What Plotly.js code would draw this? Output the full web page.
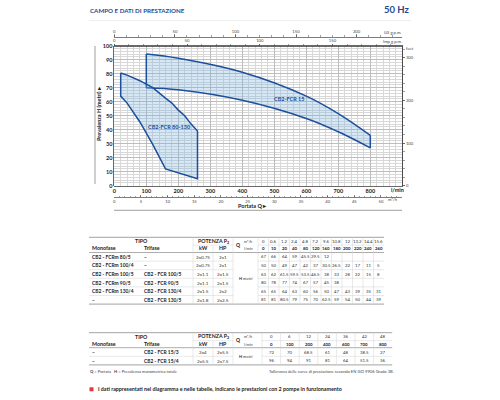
<!DOCTYPE html>
<html><head><meta charset="utf-8">
<script src="https://cdn.plot.ly/plotly-3.0.1.min.js"></script>
<style>html,body{margin:0;padding:0;background:#fff}#chart{width:500px;height:400px}</style>
</head><body><div id="chart"></div>
<script>
// ================= DATA =================
// Table 1 (CB2 - FCR 80..130)
const qM3h1 = ['0','0.6','1.2','2.4','4.8','7.2','9.6','10.8','12','13.2','14.4','15.6'];
const qLmin1 = [0,10,20,40,80,120,160,180,200,220,240,260];
const mono1 = ['CB2 - FCRm 80/5','CB2 - FCRm 100/4','CB2 - FCRm 100/5','CB2 - FCRm 90/5','CB2 - FCRm 130/4','–'];
const tri1  = ['–','–','CB2 - FCR 100/5','CB2 - FCR 90/5','CB2 - FCR 130/4','CB2 - FCR 130/5'];
const kw1 = ['2x0.75','2x0.75','2x1.1','2x1.1','2x1.5','2x1.8'];
const hp1 = ['2x1','2x1','2x1.5','2x1.5','2x2','2x2.5'];
const h_80_5  = [67,66,64,59,45.5,29.5,12,null,null,null,null,null];
const h_100_4 = [50,50,49,47,42,37,30.5,26.5,22,17,11,5];
const h_100_5 = [63,62,61.5,59.5,53.5,46.5,38,33,28,22,15,8];
const h_90_5  = [80,78,77,74,67,57,45,38,null,null,null,null];
const h_130_4 = [65,65,64,63,60,56,50,47,43,39,35,31];
const h_130_5 = [81,81,80.5,79,75,70,62.5,59,54,50,44,39];
const rows1 = [h_80_5,h_100_4,h_100_5,h_90_5,h_130_4,h_130_5];

// Table 2 (CB2 - FCR 15)
const qM3h2 = ['0','6','12','24','36','42','48'];
const qLmin2 = [0,100,200,400,600,700,800];
const mono2 = ['–','–'];
const tri2 = ['CB2 - FCR 15/3','CB2 - FCR 15/4'];
const kw2 = ['2x4','2x5.5'];
const hp2 = ['2x5.5','2x7.5'];
const h_15_3 = [72,70,68.5,61,48,38.5,27];
const h_15_4 = [96,94,91,81,64,51.5,36];
const rows2 = [h_15_3,h_15_4];

// Axis tick labels
const lminTicks = [0,100,200,300,400,500,600,700,800];
const mTicks = [0,10,20,30,40,50,60,70,80,90,100];
const feetTicks = [0,100,200,300];
const usTicks = [0,50,100,150,200];
const impTicks = [0,50,100,150];
const m3hTicks = [0,5,10,15,20,25,30,35,40,45,50];

// ================= LAYOUT HELPERS =================
const W = 500, H = 400;
const px = x => x / W;
const py = y => 1 - y / H;
const PL = 114.3, PR = 402.3, PT = 45.7, PB = 185.7;
const QMAX = 900, HMAX = 100;
const L_US = 3.785411784, L_IMP = 4.54609, M_FT = 0.3048;
const BLUE = '#1c4f9c', FILL = 'rgba(120,175,225,0.3)';
const FONT = 'Lato, sans-serif';

const ann = [], shp = [];
function txt(x, y, t, o = {}) {
  ann.push({xref:'paper', yref:'paper', x:px(x), y:py(y), text:t, showarrow:false,
    xanchor:o.xa || 'center', yanchor:'middle', textangle:o.rot || 0, borderpad:0,
    font:{family:FONT, size:o.size || 5, color:o.color || '#222', weight:o.bold ? 'bold' : 'normal'}});
}
function hl(x0, x1, y, c, w) { shp.push({type:'line', xref:'paper', yref:'paper', x0:px(x0), x1:px(x1), y0:py(y), y1:py(y), line:{color:c, width:w}}); }
function vl(x, y0, y1, c, w) { shp.push({type:'line', xref:'paper', yref:'paper', x0:px(x), x1:px(x), y0:py(y0), y1:py(y1), line:{color:c, width:w}}); }

// ================= TRACES =================
// Left area (CB2-FCR 80-130): upper = 130/5, lower = 80/5 then to 100/4 end point
const lowIdx = [6,5,4,3,2];
const leftX = [...qLmin1.slice(2), qLmin1[11], ...lowIdx.map(i => qLmin1[i]), qLmin1[2]];
const leftY = [...h_130_5.slice(2), h_100_4[11], ...lowIdx.map(i => h_80_5[i]), h_130_5[2]];

const traces = [
  {x:qLmin2.slice(1), y:h_15_3.slice(1), mode:'lines', line:{color:BLUE, width:1.5, shape:'spline'}, hoverinfo:'skip'},
  {x:qLmin2.slice(1), y:h_15_4.slice(1), mode:'lines', fill:'tonexty', fillcolor:FILL, line:{color:BLUE, width:1.5, shape:'spline'}, hoverinfo:'skip'},
  {x:[qLmin2[1], qLmin2[1], null, qLmin2[6], qLmin2[6]], y:[h_15_3[1], h_15_4[1], null, h_15_3[6], h_15_4[6]], mode:'lines', line:{color:BLUE, width:1.5}, hoverinfo:'skip'},
  {x:leftX, y:leftY, mode:'lines', fill:'toself', fillcolor:FILL, line:{color:BLUE, width:1.5}, hoverinfo:'skip'},
  // dummies to bring up secondary axes
  {x:[0], y:[0], xaxis:'x2', yaxis:'y', mode:'markers', marker:{size:0, opacity:0}, hoverinfo:'skip'},
  {x:[0], y:[0], xaxis:'x3', yaxis:'y', mode:'markers', marker:{size:0, opacity:0}, hoverinfo:'skip'},
  {x:[0], y:[0], xaxis:'x4', yaxis:'y', mode:'markers', marker:{size:0, opacity:0}, hoverinfo:'skip'},
  {x:[0], y:[0], xaxis:'x', yaxis:'y2', mode:'markers', marker:{size:0, opacity:0}, hoverinfo:'skip'}
];

// ================= ANNOTATIONS / SHAPES =================
txt(89, 10, 'CAMPO E DATI DI PRESTAZIONE', {xa:'left', size:6.2, bold:true, color:'#1e4b8f'});
txt(411, 9.5, '50 Hz', {xa:'right', size:9.5, bold:true, color:'#1e4b8f'});
hl(89, 411, 20.5, '#e4e4e4', 0.6);

txt(169, 126.7, 'CB2-FCR 80-130', {size:5.5, bold:true, color:BLUE});
txt(289, 99, 'CB2-FCR 15', {size:5.5, bold:true, color:BLUE});
txt(397, 189.5, 'l/min', {size:5.5, bold:true});
txt(392, 32.8, 'US g.p.m.', {size:4.2, color:'#444'});
txt(392, 41.3, 'Imp g.p.m.', {size:4.2, color:'#444'});
txt(404.5, 48.8, 'feet', {xa:'left', size:4.2, color:'#444'});
txt(393, 199.8, 'm³/h', {size:4.2, color:'#444'});
txt(252, 206, 'Portata Q ▸', {size:5.5, bold:true});
txt(99, 114, 'Prevalenza H (metri) ▸', {size:5.5, bold:true, rot:-90});
hl(114, 402, 210.3, '#777', 0.7);
vl(95, 46, 184, '#777', 0.7);

// ---- table builder ----
const LINE_D = '#8a8a8a', LINE_L = '#d2d2d2';
function table(cfg) {
  const {top, r1, r2, hb, rowH, dStart, dW, qm3, qlm, mono, tri, kw, hp, rows} = cfg;
  const nC = qm3.length, right = dStart + dW * nC;
  const bottom = hb + rowH * rows.length;
  const sub = (r1 + r2) / 2 + 0.3;
  txt(141, r1, 'TIPO', {size:5.3, bold:true});
  txt(213, r1, 'POTENZA P<sub>2</sub>', {size:5.3, bold:true});
  txt(90.5, r2, 'Monofase', {xa:'left', size:5.3, bold:true});
  txt(143, r2, 'Trifase', {xa:'left', size:5.3, bold:true});
  txt(203, r2, 'kW', {size:5.3, bold:true});
  txt(223, r2, 'HP', {size:5.3, bold:true});
  txt(238.5, (r1 + r2) / 2, 'Q', {size:5, bold:true});
  txt(248, r1, 'm³/h', {size:3.8, color:'#444'});
  txt(248, r2, 'l/min', {size:3.8, color:'#444'});
  for (let c = 0; c < nC; c++) {
    const cx = dStart + dW * (c + 0.5);
    txt(cx, r1, qm3[c], {size:4.3, color:'#333'});
    txt(cx, r2, String(qlm[c]), {size:4.3, bold:true});
  }
  for (let i = 0; i < rows.length; i++) {
    const y = hb + rowH * (i + 0.5);
    txt(90.5, y, mono[i], {xa:'left', size:4.9, bold:true});
    txt(143, y, tri[i], {xa:'left', size:4.9, bold:true});
    txt(203, y, kw[i], {size:4.6, color:'#333'});
    txt(223, y, hp[i], {size:4.6, color:'#333'});
    for (let c = 0; c < nC; c++) {
      const v = rows[i][c];
      if (v !== null && v !== undefined) txt(dStart + dW * (c + 0.5), y, String(v), {size:4.3, color:'#333'});
    }
  }
  txt(245.5, (hb + bottom) / 2 + 0.5, '<b>H</b> metri', {size:4, color:'#333'});
  hl(89, right, top, LINE_D, 0.8);
  hl(89, right, hb, LINE_D, 0.7);
  hl(89, right, bottom, LINE_D, 0.8);
  hl(193, 233, sub, LINE_L, 0.5);
  hl(dStart, right, sub, LINE_L, 0.5);
  for (let i = 1; i < rows.length; i++) {
    hl(89, 233, hb + rowH * i, LINE_L, 0.5);
    hl(dStart, right, hb + rowH * i, LINE_L, 0.5);
  }
  vl(193, top, bottom, LINE_L, 0.5);
  vl(213, sub, bottom, LINE_L, 0.5);
  vl(233, top, bottom, LINE_L, 0.5);
  for (let c = 0; c < nC; c++) vl(dStart + dW * c, top, bottom, LINE_L, 0.5);
}
table({top:237.3, r1:241.3, r2:248.3, hb:252.5, rowH:8.6, dStart:258, dW:10.5,
       qm3:qM3h1, qlm:qLmin1, mono:mono1, tri:tri1, kw:kw1, hp:hp1, rows:rows1});
table({top:332.7, r1:336.7, r2:344, hb:347.7, rowH:8.6, dStart:262, dW:18.6,
       qm3:qM3h2, qlm:qLmin2, mono:mono2, tri:tri2, kw:kw2, hp:hp2, rows:rows2});

txt(89, 371.8, '<b>Q</b> = Portata   <b>H</b> = Prevalenza manometrica totale', {xa:'left', size:4.1, color:'#444'});
txt(268, 371.8, 'Tolleranza delle curve di prestazione secondo EN ISO 9906 Grado 3B.', {xa:'left', size:4.1, color:'#444'});
shp.push({type:'rect', xref:'paper', yref:'paper', x0:px(89.5), x1:px(93.5), y0:py(391.3), y1:py(387.3), line:{width:0}, fillcolor:'#e0393e'});
txt(96.5, 389.3, 'I dati rappresentati nel diagramma e nelle tabelle, indicano le prestazioni con 2 pompe in funzionamento', {xa:'left', size:5.3, bold:true, color:'#222'});

// ================= AXES =================
const AX = '#444';
const small = {family:FONT, size:4.2, color:'#444'};
const layout = {
  width:W, height:H, margin:{l:0, r:0, t:0, b:0}, showlegend:false,
  paper_bgcolor:'#fff', plot_bgcolor:'#fff', font:{family:FONT, color:'#222'},
  xaxis:{domain:[px(PL), px(PR)], range:[0, QMAX], anchor:'y', tickmode:'array', tickvals:lminTicks,
    ticktext:lminTicks.map(String), showgrid:true, gridcolor:'#bdbdbd', gridwidth:1,
    minor:{tickmode:'linear', tick0:0, dtick:20, showgrid:true, gridcolor:'#d8d8d8', gridwidth:1, ticks:''},
    showline:true, linecolor:AX, linewidth:0.8, mirror:true, ticks:'', zeroline:false,
    tickfont:{family:FONT, size:5.5, color:'#222', weight:'bold'}, fixedrange:true},
  yaxis:{domain:[py(PB), py(PT)], range:[0, HMAX], anchor:'x', tickmode:'array', tickvals:mTicks,
    ticktext:mTicks.map(String), showgrid:true, gridcolor:'#bdbdbd', gridwidth:1,
    minor:{tickmode:'linear', tick0:0, dtick:2, showgrid:true, gridcolor:'#d8d8d8', gridwidth:1, ticks:''},
    showline:true, linecolor:AX, linewidth:0.8, mirror:true, ticks:'', zeroline:false,
    tickfont:{family:FONT, size:5.5, color:'#222', weight:'bold'}, fixedrange:true},
  yaxis2:{overlaying:'y', side:'right', anchor:'x', range:[0, HMAX / M_FT], tickmode:'array', tickvals:feetTicks,
    ticks:'outside', ticklen:2, tickwidth:0.6, tickcolor:AX,
    minor:{tickmode:'linear', tick0:0, dtick:20, ticks:'outside', ticklen:1.5, tickwidth:0.5, tickcolor:AX},
    showline:true, linecolor:AX, linewidth:0.8, showgrid:false, zeroline:false, tickfont:small, fixedrange:true},
  xaxis2:{overlaying:'x', anchor:'free', position:py(36.7), side:'top', range:[0, QMAX / L_US], tickmode:'array', tickvals:usTicks,
    ticks:'outside', ticklen:2.5, tickwidth:0.6, tickcolor:AX,
    minor:{tickmode:'linear', tick0:0, dtick:10, ticks:'outside', ticklen:2, tickwidth:0.5, tickcolor:AX},
    showline:true, linecolor:AX, linewidth:0.7, showgrid:false, zeroline:false, tickfont:small, fixedrange:true},
  xaxis3:{overlaying:'x', anchor:'free', position:py(PT), side:'top', range:[0, QMAX / L_IMP], tickmode:'array', tickvals:impTicks,
    ticks:'outside', ticklen:2, tickwidth:0.6, tickcolor:AX,
    minor:{tickmode:'linear', tick0:0, dtick:10, ticks:'outside', ticklen:1.5, tickwidth:0.5, tickcolor:AX},
    showline:true, linecolor:AX, linewidth:0.8, showgrid:false, zeroline:false, tickfont:small, fixedrange:true},
  xaxis4:{overlaying:'x', anchor:'free', position:py(197.3), side:'bottom', range:[0, QMAX * 60 / 1000], tickmode:'array', tickvals:m3hTicks,
    ticks:'inside', ticklen:2, tickwidth:0.6, tickcolor:AX,
    minor:{tickmode:'linear', tick0:0, dtick:1, ticks:'inside', ticklen:1.5, tickwidth:0.5, tickcolor:AX},
    showline:true, linecolor:AX, linewidth:0.7, showgrid:false, zeroline:false, tickfont:small, fixedrange:true},
  annotations:ann, shapes:shp
};
Plotly.newPlot('chart', traces, layout, {displayModeBar:false, staticPlot:true});
</script></body></html>
